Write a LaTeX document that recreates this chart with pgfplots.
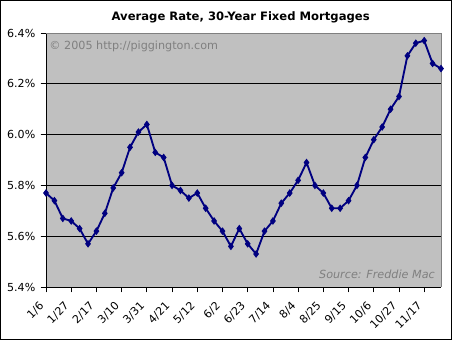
\documentclass[border=0pt]{standalone}
\usepackage{pgfplots}
\pgfplotsset{compat=1.18}
\usepackage{fontspec}
\setmainfont{DejaVu Sans}
\definecolor{bggray}{HTML}{C0C0C0}
\definecolor{navyline}{HTML}{000080}
\definecolor{wmgray}{HTML}{808080}
\pgfplotstableread{
idx rate
0 5.77
1 5.74
2 5.67
3 5.66
4 5.63
5 5.57
6 5.62
7 5.69
8 5.79
9 5.85
10 5.95
11 6.01
12 6.04
13 5.93
14 5.91
15 5.80
16 5.78
17 5.75
18 5.77
19 5.71
20 5.66
21 5.62
22 5.56
23 5.63
24 5.57
25 5.53
26 5.62
27 5.66
28 5.73
29 5.77
30 5.82
31 5.89
32 5.80
33 5.77
34 5.71
35 5.71
36 5.74
37 5.80
38 5.91
39 5.98
40 6.03
41 6.10
42 6.15
43 6.31
44 6.36
45 6.37
46 6.28
47 6.26
}\ratetable
\begin{document}
\begin{tikzpicture}
\useasboundingbox (0,0) rectangle (339pt,255pt);
\draw[black, line width=0.75pt] (0.375pt,0.375pt) rectangle (338.625pt,254.625pt);
\node[font=\fontsize{8.7}{10}\selectfont\bfseries] at (180.5pt,242pt) {Average Rate, 30-Year Fixed Mortgages};
\begin{axis}[
  at={(34.5pt,39.75pt)}, anchor=south west,
  scale only axis, width=296.25pt, height=190.5pt,
  xmin=0, xmax=47, ymin=5.4, ymax=6.4,
  axis background/.style={fill=bggray},
  axis x line*=bottom, axis y line*=left,
  axis line style={black, line width=0.75pt, -},
  xtick={0,3,...,45},
  xticklabels={1/6,1/27,2/17,3/10,3/31,4/21,5/12,6/2,6/23,7/14,8/4,8/25,9/15,10/6,10/27,11/17},
  ytick={5.4,5.6,5.8,6.0,6.2,6.4},
  yticklabels={5.4\%,5.6\%,5.8\%,6.0\%,6.2\%,6.4\%},
  extra y ticks={5.6,5.8,6.0,6.2},
  extra y tick labels={},
  extra y tick style={grid=major, major grid style={black, line width=0.75pt}},
  tick align=outside,
  major tick length=4pt,
  tick style={black, line width=0.6pt},
  ticklabel style={font=\fontsize{8.3}{10}\selectfont},
  yticklabel style={xshift=-0.5pt},
  xticklabel style={rotate=45, anchor=east, xshift=-5pt, yshift=-4pt},
  clip=false,
]
\draw[wmgray, line width=0.6pt] (rel axis cs:0,1) -- (rel axis cs:1,1) -- (rel axis cs:1,0);
\addplot[navyline, line width=1.4pt, mark=diamond*, mark size=2.4pt, mark options={fill=navyline, line width=0.6pt}] table[x=idx, y=rate] {\ratetable};
\node[anchor=west, text=wmgray, font=\fontsize{8.4}{10}\selectfont, inner sep=0pt] at (rel axis cs:0.008,0.948) {© 2005 http://piggington.com};
\node[anchor=east, text=wmgray, font=\fontsize{8.4}{10}\selectfont\itshape, inner sep=0pt] at (rel axis cs:0.985,0.05) {Source: Freddie Mac};
\end{axis}
\end{tikzpicture}
\end{document}
